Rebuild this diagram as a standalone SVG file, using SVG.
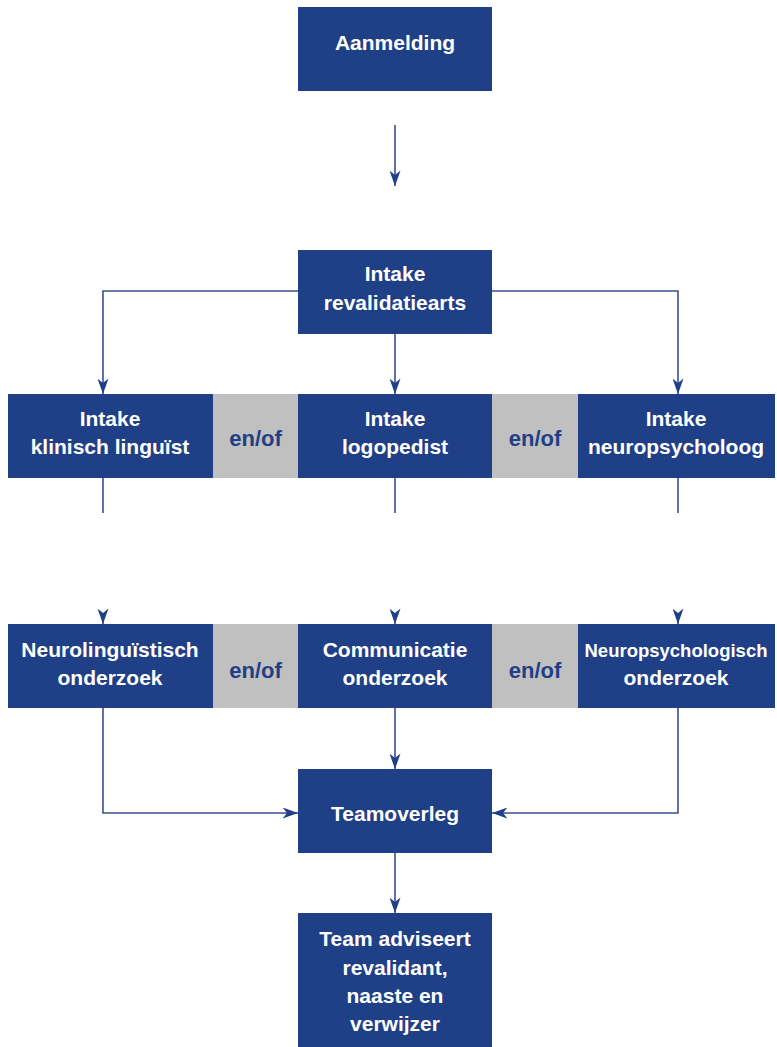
<svg xmlns="http://www.w3.org/2000/svg" width="777" height="1047" viewBox="0 0 777 1047">
<defs>
<style>
.box{fill:#1f3f87;}
.gray{fill:#c0c0c0;}
.t{font-family:"Liberation Sans",Arial,sans-serif;font-weight:bold;font-size:21px;fill:#ffffff;text-anchor:middle;}
.eo{font-family:"Liberation Sans",Arial,sans-serif;font-weight:bold;font-size:22px;fill:#1f3f87;text-anchor:middle;}
.c{fill:none;stroke:#3b4f91;stroke-width:1.6;}
</style>
<marker id="ah" viewBox="0 0 14 10" refX="14" refY="5" markerWidth="16" markerHeight="11" markerUnits="userSpaceOnUse" orient="auto">
<path d="M0,0 L14,5 L0,10 L4,5 z" fill="#1f3f87"/>
</marker>
</defs>
<rect width="777" height="1047" fill="#ffffff"/>
<g id="connectors">
<path class="c" d="M395,125 V186" marker-end="url(#ah)"/>
<path class="c" d="M298,291 H103 V394" marker-end="url(#ah)"/>
<path class="c" d="M395,334 V394" marker-end="url(#ah)"/>
<path class="c" d="M492,291 H678 V394" marker-end="url(#ah)"/>
<path class="c" d="M103,478 V513"/>
<path class="c" d="M395,478 V513"/>
<path class="c" d="M678,478 V513"/>
<path class="c" d="M103,614 V624" marker-end="url(#ah)"/>
<path class="c" d="M395,614 V624" marker-end="url(#ah)"/>
<path class="c" d="M678,614 V624" marker-end="url(#ah)"/>
<path class="c" d="M103,708 V813 H298" marker-end="url(#ah)"/>
<path class="c" d="M395,708 V769" marker-end="url(#ah)"/>
<path class="c" d="M678,708 V813 H492" marker-end="url(#ah)"/>
<path class="c" d="M395,853 V913" marker-end="url(#ah)"/>
</g>
<g id="aanmelding">
<rect class="box" x="298" y="7" width="194" height="84"/>
<text class="t" x="395" y="50">Aanmelding</text>
</g>
<g id="intake-revalidatiearts">
<rect class="box" x="298" y="250" width="194" height="84"/>
<text class="t" x="395" y="281">Intake</text>
<text class="t" x="395" y="310">revalidatiearts</text>
</g>
<g id="enof-1">
<rect class="gray" x="213" y="394" width="85" height="84"/>
<text class="eo" x="255.5" y="446">en/of</text>
</g>
<g id="enof-2">
<rect class="gray" x="492" y="394" width="86" height="84"/>
<text class="eo" x="535" y="446">en/of</text>
</g>
<g id="intake-klinisch-linguist">
<rect class="box" x="8" y="394" width="205" height="84"/>
<text class="t" x="110" y="426">Intake</text>
<text class="t" x="110" y="454">klinisch linguïst</text>
</g>
<g id="intake-logopedist">
<rect class="box" x="298" y="394" width="194" height="84"/>
<text class="t" x="395" y="426">Intake</text>
<text class="t" x="395" y="454">logopedist</text>
</g>
<g id="intake-neuropsycholoog">
<rect class="box" x="578" y="394" width="197" height="84"/>
<text class="t" x="676" y="426">Intake</text>
<text class="t" x="676" y="454">neuropsycholoog</text>
</g>
<g id="enof-3">
<rect class="gray" x="213" y="624" width="85" height="84"/>
<text class="eo" x="255.5" y="678">en/of</text>
</g>
<g id="enof-4">
<rect class="gray" x="492" y="624" width="86" height="84"/>
<text class="eo" x="535" y="678">en/of</text>
</g>
<g id="neurolinguistisch-onderzoek">
<rect class="box" x="8" y="624" width="205" height="84"/>
<text class="t" x="110" y="657">Neurolinguïstisch</text>
<text class="t" x="110" y="685">onderzoek</text>
</g>
<g id="communicatie-onderzoek">
<rect class="box" x="298" y="624" width="194" height="84"/>
<text class="t" x="395" y="657">Communicatie</text>
<text class="t" x="395" y="685">onderzoek</text>
</g>
<g id="neuropsychologisch-onderzoek">
<rect class="box" x="578" y="624" width="197" height="84"/>
<text class="t" x="676" y="657" style="font-size:18.5px">Neuropsychologisch</text>
<text class="t" x="676" y="685">onderzoek</text>
</g>
<g id="teamoverleg">
<rect class="box" x="298" y="769" width="194" height="84"/>
<text class="t" x="395" y="821">Teamoverleg</text>
</g>
<g id="team-adviseert">
<rect class="box" x="298" y="913" width="194" height="134"/>
<text class="t" x="395" y="946">Team adviseert</text>
<text class="t" x="395" y="975">revalidant,</text>
<text class="t" x="395" y="1003">naaste en</text>
<text class="t" x="395" y="1031">verwijzer</text>
</g>
</svg>
